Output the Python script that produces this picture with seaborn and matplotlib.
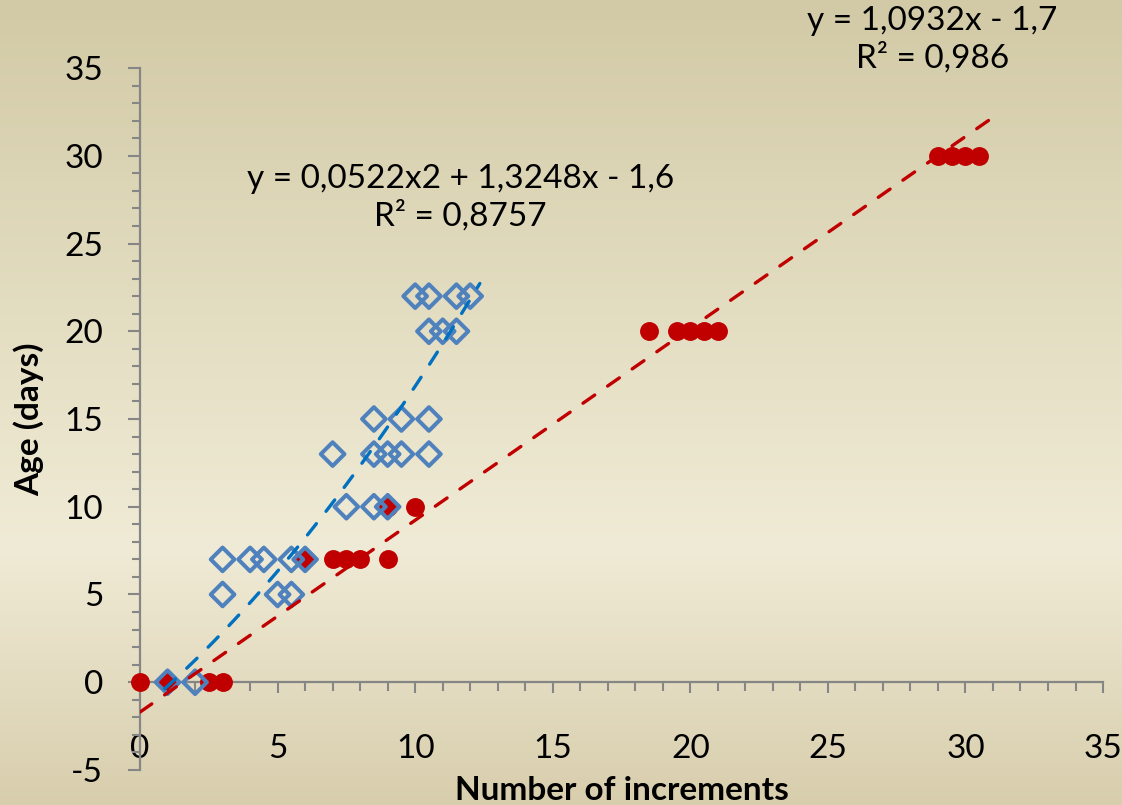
import numpy as np
import matplotlib
matplotlib.use("Agg")
import matplotlib.pyplot as plt
from matplotlib.colors import LinearSegmentedColormap
from matplotlib.ticker import MultipleLocator
import seaborn as sns

# series 1: open blue diamonds
blue_x = [1, 2, 3, 5, 5.5, 3, 4, 4.5, 5.5, 6, 7.5, 8.5, 9, 7, 8.5, 9, 9.5, 10.5,
          8.5, 9.5, 10.5, 10.5, 11, 11.5, 10, 10.5, 11.5, 12]
blue_y = [0, 0, 5, 5, 5, 7, 7, 7, 7, 7, 10, 10, 10, 13, 13, 13, 13, 13,
          15, 15, 15, 20, 20, 20, 22, 22, 22, 22]

# series 2: red dots
red_x = [0, 1, 2.5, 3, 6, 7, 7.5, 8, 9, 9, 10, 18.5, 19.5, 20, 20.5, 21,
         29, 29.5, 30, 30.5]
red_y = [0, 0, 0, 0, 7, 7, 7, 7, 7, 10, 10, 20, 20, 20, 20, 20,
         30, 30, 30, 30]

# trendlines (coefficients as printed on the chart)
blue_coef = [0.0522, 1.3248, -1.6]
blue_range = [0.9, 12.35]
red_coef = [1.0932, -1.7]
red_range = [0, 31.1]

blue_label = "y = 0,0522x2 + 1,3248x - 1,6\nR² = 0,8757"
red_label = "y = 1,0932x - 1,7\nR² = 0,986"

sns.set_theme(style="white")
plt.rcParams["font.family"] = ["Lato", "DejaVu Sans"]
plt.rcParams["text.color"] = "black"
plt.rcParams["axes.labelcolor"] = "black"
plt.rcParams["axes.unicode_minus"] = False

fig = plt.figure(figsize=(11.22, 8.05), dpi=100)

# background gradient
bg = fig.add_axes([0, 0, 1, 1], zorder=-1)
cmap = LinearSegmentedColormap.from_list(
    "bg", [(0, "#d2caa6"), (0.68, "#f0ebd6"), (1, "#d8cead")])
bg.imshow(np.linspace(0, 1, 256)[:, None], aspect="auto", cmap=cmap,
          extent=[0, 1, 0, 1])
bg.axis("off")

ax = fig.add_axes([0.1248, 0.0435, 0.8583, 0.872])
ax.set_facecolor("none")

sns.scatterplot(x=red_x, y=red_y, marker="o", s=185, color="#c00000",
                edgecolor="#c00000", linewidth=0, zorder=3, clip_on=False, ax=ax)
sns.scatterplot(x=blue_x, y=blue_y, marker="D", s=145, facecolor="none",
                edgecolor="#4f81bd", linewidth=2.9, zorder=4, clip_on=False, ax=ax)

bx = np.linspace(blue_range[0], blue_range[1], 60)
sns.lineplot(x=bx, y=np.polyval(blue_coef, bx), color="#0070c0", lw=2.4,
             linestyle=(0, (4.3, 4.7)), dash_capstyle="round", zorder=5, ax=ax)
rx = np.linspace(red_range[0], red_range[1], 60)
sns.lineplot(x=rx, y=np.polyval(red_coef, rx), color="#c00000", lw=2.4,
             linestyle=(0, (4.3, 4.7)), dash_capstyle="round", zorder=5, ax=ax)

ax.set_xlim(0, 35)
ax.set_ylim(-5, 35)
ax.set_xticks(range(0, 36, 5))
ax.set_yticks(range(-5, 36, 5))
ax.xaxis.set_minor_locator(MultipleLocator(1))
ax.yaxis.set_minor_locator(MultipleLocator(1))

for s in ["top", "right"]:
    ax.spines[s].set_visible(False)
ax.spines["bottom"].set_position(("data", 0))
for s in ["left", "bottom"]:
    ax.spines[s].set_color("#868686")
    ax.spines[s].set_linewidth(1.6)
    ax.spines[s].set_zorder(1)

ax.tick_params(axis="both", which="both", direction="out", color="#868686",
               width=1.5, labelsize=24, labelcolor="black")
ax.tick_params(axis="x", which="major", length=8, pad=29, bottom=True)
ax.tick_params(axis="x", which="minor", length=6.5, bottom=True)
ax.tick_params(axis="y", which="major", length=8.6, pad=18, left=True)
ax.tick_params(axis="y", which="minor", length=5.8, left=True)

ax.set_xlabel("Number of increments", fontsize=24, fontweight="bold")
ax.set_ylabel("Age (days)", fontsize=24, fontweight="bold")
ax.xaxis.set_label_coords(0.5, -0.008)
ax.yaxis.set_label_coords(-0.1, 0.5)

ax.text(11.64, 27.6, blue_label, ha="center", va="center", fontsize=24,
        linespacing=1.25)
ax.text(28.8, 36.6, red_label, ha="center", va="center", fontsize=24,
        linespacing=1.25, clip_on=False)

fig.savefig("out.png", dpi=100)
